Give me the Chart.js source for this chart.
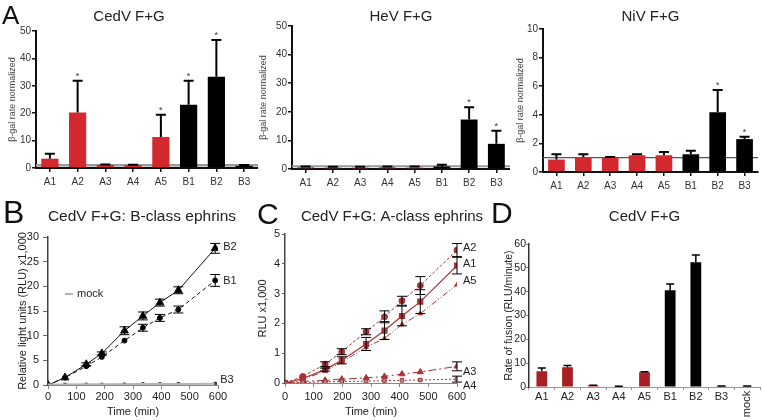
<!DOCTYPE html>
<html lang="en">
<head>
<meta charset="UTF-8">
<title>CedV, HeV and NiV fusion with ephrins</title>
<script src="https://cdn.jsdelivr.net/npm/chart.js@4.4.0/dist/chart.umd.min.js"></script>
<style>
  body { margin: 0; background: #fff; }
  #fig { position: relative; width: 762px; height: 420px; overflow: hidden; font-family: "Liberation Sans", Arial, sans-serif; }
  #fig canvas { position: absolute; }
  .tag { position: absolute; color: #111; line-height: 1; z-index: 5; }
</style>
</head>
<body>
<div id="fig">
  <canvas id="cedv" width="258" height="195" style="left:0;top:0"></canvas>
  <canvas id="hev" width="252" height="195" style="left:258px;top:0"></canvas>
  <canvas id="niv" width="252" height="195" style="left:510px;top:0"></canvas>
  <canvas id="bclass" width="284" height="225" style="left:0;top:195px"></canvas>
  <canvas id="aclass" width="284" height="225" style="left:250px;top:195px"></canvas>
  <canvas id="rate" width="262" height="225" style="left:500px;top:195px"></canvas>
  <div class="tag" style="left:2px;top:2px;font-size:26px">A</div>
  <div class="tag" style="left:3px;top:196px;font-size:32px">B</div>
  <div class="tag" style="left:257px;top:199px;font-size:30px">C</div>
  <div class="tag" style="left:491px;top:198px;font-size:30px">D</div>
</div>
<script>
// panel A: beta-gal rate normalized
const aCats = ['A1', 'A2', 'A3', 'A4', 'A5', 'B1', 'B2', 'B3'];
const cedvVals = [3.4, 20.3, 1.1, 1.0, 11.3, 23.1, 33.3, 0.8];
const cedvErr  = [1.8, 11.5, 0.2, 0.2, 8.1, 8.7, 13.4, 0.3];
const cedvStar = [0, 1, 0, 0, 1, 1, 1, 0];
const hevVals = [0.6, 0.5, 0.5, 0.6, 0.5, 0.9, 17.3, 8.8];
const hevErr  = [0.3, 0.3, 0.3, 0.3, 0.4, 0.6, 4.3, 4.6];
const hevStar = [0, 0, 0, 0, 0, 0, 1, 1];
const nivVals = [0.87, 1.05, 0.98, 1.17, 1.17, 1.24, 4.17, 2.3];
const nivErr  = [0.37, 0.19, 0.07, 0.07, 0.23, 0.24, 1.57, 0.16];
const nivStar = [0, 0, 0, 0, 0, 0, 1, 1];

// panel B: B-class ephrins, RLU x1,000
const bTime = [0, 60, 135, 190, 270, 335, 395, 460, 590];
const bB2 = [0, 1.5, 4.2, 6.4, 11.0, 14.0, 16.7, 19.2, 27.7];
const bB2Err = [0, 0, 0.3, 0.3, 0.8, 0.8, 0.7, 0.7, 1.0];
const bB1 = [0, 1.5, 3.8, 5.7, 9.0, 11.6, 13.6, 15.3, 21.2];
const bB1Err = [0, 0, 0, 0, 0, 0.7, 0.7, 0.7, 1.2];
const bB3 = [0, 0.1, 0.1, 0.1, 0.15, 0.2, 0.2, 0.25, 0.3];
const bMock = [0.1, 0.1, 0.15, 0.15, 0.15, 0.2, 0.2, 0.2, 0.25];

// panel C: A-class ephrins, RLU x1,000
const cTime = [0, 62, 140, 198, 283, 347, 408, 472, 600];
const cA2 = [0, 0.22, 0.63, 1.05, 1.72, 2.22, 2.76, 3.27, 4.46];
const cA2Err = [0, 0, 0.08, 0.1, 0.1, 0.2, 0.15, 0.3, 0.22];
const cA1 = [0, 0.15, 0.45, 0.76, 1.31, 1.76, 2.25, 2.73, 3.94];
const cA1Err = [0, 0, 0.05, 0.12, 0.22, 0.3, 0.33, 0.4, 0.28];
const cA5 = [0, 0.12, 0.4, 0.7, 1.2, 1.5, 1.96, 2.33, 3.3];
const cA3 = [0, 0.05, 0.09, 0.13, 0.17, 0.22, 0.3, 0.37, 0.56];
const cA3Err = [0, 0, 0, 0, 0, 0, 0, 0, 0.15];
const cA4 = [0, 0.02, 0.04, 0.05, 0.06, 0.08, 0.09, 0.1, 0.13];
const cA4Err = [0, 0, 0, 0, 0, 0, 0, 0, 0.1];

// panel D: rate of fusion
const dCats = ['A1', 'A2', 'A3', 'A4', 'A5', 'B1', 'B2', 'B3', 'mock'];
const dVals = [6.6, 8.3, 0.6, 0.2, 6.2, 40.6, 52.3, 0.3, 0.3];
const dErr  = [1.4, 0.7, 0.1, 0.1, 0.2, 2.6, 3.1, 0.1, 0.1];

const FONT = '"Liberation Sans", Arial, sans-serif';
const RED_A = '#d3282d';
const RED_C = '#a83236';
const RED_D = '#a81f24';

Chart.defaults.font.family = FONT;
Chart.defaults.color = '#222';
Chart.defaults.animation = false;
Chart.defaults.plugins.legend.display = false;
Chart.defaults.plugins.tooltip.enabled = false;

// error bars (+ optional asterisks) drawn from dataset.errors
const errorBars = {
  id: 'errorBars',
  afterDatasetsDraw(chart) {
    const ctx = chart.ctx;
    const y = chart.scales.y;
    chart.data.datasets.forEach((ds, i) => {
      if (!ds.errors) return;
      const els = chart.getDatasetMeta(i).data;
      ctx.save();
      ctx.strokeStyle = '#000';
      ctx.lineWidth = ds.errWidth || 1;
      els.forEach((el, j) => {
        const e = ds.errors[j];
        if (!e) return;
        const raw = ds.data[j];
        const v = typeof raw === 'object' ? raw.y : raw;
        const top = y.getPixelForValue(v + e);
        const bot = ds.errBoth ? y.getPixelForValue(v - e) : el.y;
        const c = ds.errCap || 4;
        ctx.beginPath();
        ctx.moveTo(el.x, top); ctx.lineTo(el.x, bot);
        ctx.moveTo(el.x - c, top); ctx.lineTo(el.x + c, top);
        if (ds.errBoth) { ctx.moveTo(el.x - c, bot); ctx.lineTo(el.x + c, bot); }
        ctx.stroke();
        if (ds.stars && ds.stars[j]) {
          ctx.fillStyle = '#333';
          ctx.font = '9px ' + FONT;
          ctx.textAlign = 'center';
          ctx.textBaseline = 'alphabetic';
          ctx.fillText('*', el.x, top - 2);
        }
      });
      ctx.restore();
    });
  }
};

// horizontal line at normalized value 1
const refLine = {
  id: 'refLine',
  beforeDatasetsDraw(chart, args, opts) {
    if (opts.value == null) return;
    const {ctx, chartArea: a} = chart;
    const py = chart.scales.y.getPixelForValue(opts.value);
    ctx.save();
    ctx.strokeStyle = opts.color;
    ctx.lineWidth = opts.width;
    ctx.beginPath();
    ctx.moveTo(a.left, py);
    ctx.lineTo(a.right, py);
    ctx.stroke();
    ctx.restore();
  }
};

// series names written at the end of each line
const endLabels = {
  id: 'endLabels',
  afterDatasetsDraw(chart) {
    const ctx = chart.ctx;
    chart.data.datasets.forEach((ds, i) => {
      if (!ds.endLabel) return;
      const els = chart.getDatasetMeta(i).data;
      const p = els[els.length - 1];
      ctx.save();
      ctx.fillStyle = '#222';
      ctx.font = '11px ' + FONT;
      ctx.textBaseline = 'middle';
      ctx.fillText(ds.endLabel, p.x + (ds.endDx || 6), p.y + (ds.endDy || 0));
      ctx.restore();
    });
  }
};

function barPanel(id, vals, errs, stars, opt) {
  new Chart(document.getElementById(id), {
    type: 'bar',
    data: {
      labels: aCats,
      datasets: [{
        data: vals,
        errors: errs,
        stars: stars,
        errWidth: 2,
        errCap: 5,
        backgroundColor: aCats.map(c => c[0] === 'A' ? RED_A : '#000'),
        barPercentage: 0.62,
        categoryPercentage: 1
      }]
    },
    options: {
      responsive: false,
      layout: { padding: { left: 0, right: opt.padRight, top: 0, bottom: 0 } },
      plugins: {
        title: {
          display: true, text: opt.title, fullSize: opt.fullSize, color: '#222',
          font: { size: 15, weight: 'normal' }, padding: { top: 8, bottom: opt.titleGap }
        },
        refLine: { value: 1, color: opt.refColor, width: opt.refWidth }
      },
      scales: {
        x: {
          grid: { drawOnChartArea: false, offset: false, tickLength: 4, color: '#111', lineWidth: 1.5 },
          border: { color: '#111', width: 2 },
          ticks: { font: { size: 10 }, color: '#333', padding: 4, autoSkip: false, maxRotation: 0 },
          afterFit: s => { s.height = opt.xHeight; }
        },
        y: {
          min: 0, max: opt.max,
          ticks: { stepSize: opt.step, font: { size: 10 }, color: '#333', padding: 1 },
          grid: { drawOnChartArea: false, tickLength: 4, color: '#111', lineWidth: 1.5 },
          border: { color: '#111', width: 2 },
          title: {
            display: true, text: 'β-gal rate normalized', color: '#444',
            font: { size: 9 }, padding: { top: opt.yTitlePad, bottom: 0 }
          },
          afterFit: s => { s.width = opt.yWidth; }
        }
      }
    },
    plugins: [refLine, errorBars]
  });
}

barPanel('cedv', cedvVals, cedvErr, cedvStar, {
  title: 'CedV F+G', fullSize: true, titleGap: 5, padRight: 0, xHeight: 27, yWidth: 36,
  yTitlePad: 7.6, max: 50, step: 10, refColor: '#9a9a9a', refWidth: 2.5
});
barPanel('hev', hevVals, hevErr, hevStar, {
  title: 'HeV F+G', fullSize: false, titleGap: 0, padRight: 0, xHeight: 26, yWidth: 34,
  yTitlePad: 0, max: 50, step: 10, refColor: '#9a9a9a', refWidth: 2
});
barPanel('niv', nivVals, nivErr, nivStar, {
  title: 'NiV F+G', fullSize: false, titleGap: 3, padRight: 4, xHeight: 23, yWidth: 33,
  yTitlePad: 5.6, max: 10, step: 2, refColor: '#555', refWidth: 1.2
});

const xy = (xs, ys) => xs.map((x, i) => ({ x: x, y: ys[i] }));

function lineScales(yMax, yStep, yLabel, yWidth, yTitlePad, xHeight, xPad, yTickPad, yTickLen, rightGap) {
  return {
    x: {
      type: 'linear', min: 0, max: 600,
      ticks: { stepSize: 100, font: { size: 11 }, color: '#222', padding: xPad, maxRotation: 0 },
      grid: { drawOnChartArea: false, tickLength: 4, color: '#888' },
      border: { color: '#888', width: 1 },
      title: { display: true, text: 'Time (min)', color: '#222', font: { size: 11 }, padding: { top: 0, bottom: 1.7 } },
      afterFit: s => { s.height = xHeight; }
    },
    y: {
      min: 0, max: yMax,
      ticks: { stepSize: yStep, font: { size: 11 }, color: '#222', padding: yTickPad },
      grid: { drawOnChartArea: false, tickLength: yTickLen, color: '#666' },
      border: { color: '#444', width: 1.5 },
      title: { display: true, text: yLabel, color: '#222', font: { size: 11 }, padding: { top: yTitlePad, bottom: 0 } },
      afterFit: s => { s.width = yWidth; }
    },
    // empty right-hand box: leaves room for the end labels, keeps the title centred on the canvas
    gap: {
      type: 'linear', position: 'right', display: true,
      ticks: { display: false }, grid: { display: false }, border: { display: false },
      afterFit: s => { s.width = rightGap; }
    }
  };
}

// small "— mock" key inside panel B
const mockKey = {
  id: 'mockKey',
  afterDraw(chart) {
    const {ctx, chartArea: a} = chart;
    ctx.save();
    ctx.strokeStyle = '#b5b5b5';
    ctx.lineWidth = 2;
    ctx.beginPath();
    ctx.moveTo(a.left + 17, a.top + 57);
    ctx.lineTo(a.left + 25, a.top + 57);
    ctx.stroke();
    ctx.fillStyle = '#222';
    ctx.font = '11px ' + FONT;
    ctx.textBaseline = 'middle';
    ctx.fillText('mock', a.left + 29, a.top + 57);
    ctx.restore();
  }
};

new Chart(document.getElementById('bclass'), {
  type: 'line',
  data: {
    datasets: [
      { data: xy(bTime, bMock), borderColor: '#b5b5b5', borderWidth: 2, pointRadius: 0 },
      { data: xy(bTime, bB3), borderColor: '#333', borderWidth: 1, borderDash: [2, 2],
        pointStyle: 'rect', pointRadius: 1.8, backgroundColor: '#000',
        endLabel: 'B3', endDx: 5, endDy: -3.5 },
      { data: xy(bTime, bB1), errors: bB1Err, errBoth: true, errCap: 5, borderColor: '#111', borderWidth: 1,
        borderDash: [4, 3], pointStyle: 'circle', pointRadius: 2.5, backgroundColor: '#000',
        endLabel: 'B1', endDx: 8, endDy: 1 },
      { data: xy(bTime, bB2), errors: bB2Err, errBoth: true, errCap: 5, borderColor: '#111', borderWidth: 1,
        pointStyle: 'triangle', pointRadius: 4.5, backgroundColor: '#000',
        endLabel: 'B2', endDx: 8, endDy: -1 }
    ]
  },
  options: {
    responsive: false,
    elements: { line: { tension: 0 } },
    plugins: {
      title: { display: true, text: 'CedV F+G: B-class ephrins', color: '#222',
        font: { size: 15.5, weight: 'normal' }, padding: { top: 12.4, bottom: 11 } }
    },
    scales: lineScales(30, 5, 'Relative light units (RLU) x1,000', 48, 16.4, 35, 1, 4, 5, 66)
  },
  plugins: [errorBars, endLabels, mockKey]
});

new Chart(document.getElementById('aclass'), {
  type: 'line',
  data: {
    datasets: [
      { data: xy(cTime, cA4), errors: cA4Err, errBoth: true, errCap: 5, borderColor: RED_C, borderWidth: 1,
        borderDash: [2, 2], pointStyle: 'rect', pointRadius: 2.5, backgroundColor: '#9a9a9a',
        endLabel: 'A4', endDy: 7 },
      { data: xy(cTime, cA3), errors: cA3Err, errBoth: true, errCap: 5, borderColor: RED_C, borderWidth: 1,
        borderDash: [8, 3, 2, 3], pointStyle: 'triangle', pointRadius: 3.5, backgroundColor: RED_C,
        endLabel: 'A3', endDy: 6 },
      { data: xy(cTime, cA5), borderColor: RED_C, borderWidth: 1, borderDash: [6, 2, 1, 2, 1, 2],
        pointStyle: 'triangle', pointRadius: 2.5, backgroundColor: RED_C,
        endLabel: 'A5', endDy: -4 },
      { data: xy(cTime, cA1), errors: cA1Err, errBoth: true, errCap: 5, borderColor: RED_C, borderWidth: 1.2,
        pointStyle: 'rect', pointRadius: 3.5, backgroundColor: RED_C,
        endLabel: 'A1', endDy: -1.5 },
      { data: xy(cTime, cA2), errors: cA2Err, errBoth: true, errCap: 5, borderColor: RED_C, borderWidth: 1,
        borderDash: [3, 2], pointStyle: 'circle', pointRadius: 3, backgroundColor: RED_C,
        endLabel: 'A2', endDy: -2 }
    ]
  },
  options: {
    responsive: false,
    elements: { line: { tension: 0 } },
    plugins: {
      title: { display: true, text: 'CedV F+G: A-class ephrins', color: '#222',
        font: { size: 15, weight: 'normal' }, padding: { top: 12.7, bottom: 8.3 } }
    },
    scales: lineScales(5, 1, 'RLU x1,000', 35, 6.4, 37, 3.4, 2, 3, 77)
  },
  plugins: [errorBars, endLabels]
});

// vertical "mock" tick label in panel D
const mockTick = {
  id: 'mockTick',
  afterDraw(chart) {
    const {ctx, scales: {x}} = chart;
    const px = x.getPixelForValue(dCats.indexOf('mock'));
    ctx.save();
    ctx.translate(px, x.top + 17);
    ctx.rotate(-Math.PI / 2);
    ctx.fillStyle = '#222';
    ctx.font = '11px ' + FONT;
    ctx.textAlign = 'center';
    ctx.textBaseline = 'middle';
    ctx.fillText('mock', 0, 0);
    ctx.restore();
  }
};

new Chart(document.getElementById('rate'), {
  type: 'bar',
  data: {
    labels: dCats,
    datasets: [{
      data: dVals,
      errors: dErr,
      errWidth: 1.5,
      errCap: 4,
      backgroundColor: dCats.map(c => c[0] === 'A' ? RED_D : '#000'),
      barPercentage: 0.42,
      categoryPercentage: 1
    }]
  },
  options: {
    responsive: false,
    layout: { padding: { left: 0, right: 2, top: 0, bottom: 0 } },
    plugins: {
      title: { display: true, text: 'CedV F+G', fullSize: false, color: '#222',
        font: { size: 15, weight: 'normal' }, padding: { top: 12.7, bottom: 18.3 } }
    },
    scales: {
      x: {
        grid: { drawOnChartArea: false, tickLength: 3, color: '#999' },
        border: { color: '#999', width: 1 },
        ticks: { font: { size: 11 }, color: '#222', padding: 0, autoSkip: false, maxRotation: 0,
          callback: (v, i) => dCats[i] === 'mock' ? '' : dCats[i] },
        afterFit: s => { s.height = 33; }
      },
      y: {
        min: 0, max: 60,
        ticks: { stepSize: 10, font: { size: 10.5 }, color: '#222', padding: 0 },
        grid: { drawOnChartArea: false, tickLength: 3, color: '#888' },
        border: { color: '#333', width: 1.5 },
        title: { display: true, text: 'Rate of fusion (RLU/minute)', color: '#222', font: { size: 10.5 },
          padding: { top: 2.7, bottom: 0 } },
        afterFit: s => { s.width = 29; }
      }
    }
  },
  plugins: [errorBars, mockTick]
});
</script>
</body>
</html>
